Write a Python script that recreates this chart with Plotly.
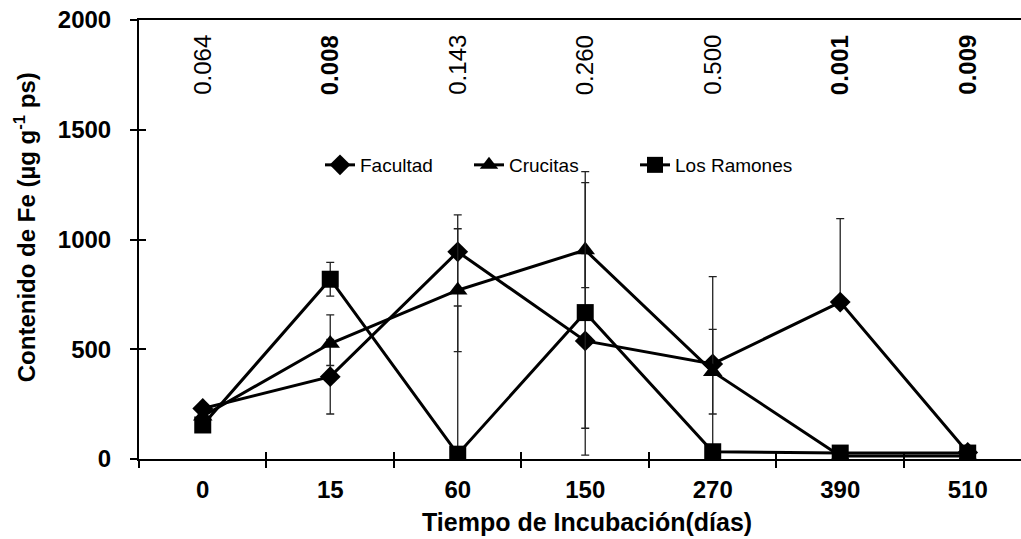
import plotly.graph_objects as go

days = ["0", "15", "60", "150", "270", "390", "510"]
facultad = [230, 375, 944, 538, 433, 715, 30]
crucitas = [195, 526, 769, 952, 398, 14, 14]
ramones = [155, 819, 22, 667, 33, 27, 27]

fac_err_plus = [0, 170, 168, 398, 398, 380, 0]
fac_err_minus = [0, 170, 168, 398, 398, 0, 0]
cru_err_plus = [0, 131, 280, 357, 193, 0, 0]
cru_err_minus = [0, 100, 280, 171, 193, 0, 0]
ram_err_plus = [0, 77, 675, 592, 0, 0, 0]
ram_err_minus = [0, 77, 0, 649, 0, 0, 0]

p_values = ["0.064", "0.008", "0.143", "0.260", "0.500", "0.001", "0.009"]
p_bold = [False, True, False, False, False, True, True]

y_ticks = [0, 500, 1000, 1500, 2000]

FONT = "Liberation Sans, Arial, sans-serif"

fig = go.Figure()

def add_series(name, yvals, eplus, eminus, symbol, size, legend):
    fig.add_trace(go.Scatter(
        x=days, y=yvals, name=name, mode="lines+markers",
        line=dict(color="black", width=3),
        marker=dict(symbol=symbol, size=size, color="black"),
        error_y=dict(type="data", symmetric=False, array=eplus, arrayminus=eminus,
                     color="#222222", thickness=1.3, width=4),
        legend=legend, showlegend=True,
    ))

add_series("Facultad", facultad, fac_err_plus, fac_err_minus, "diamond", 16, "legend")
add_series("Crucitas", crucitas, cru_err_plus, cru_err_minus, "triangle-up", 17, "legend2")
add_series("Los Ramones", ramones, ram_err_plus, ram_err_minus, "square", 17, "legend3")

# empty helper trace so the overlay axes (inner half of the crossing ticks) are drawn
fig.add_trace(go.Scatter(x=[], y=[], xaxis="x2", yaxis="y2", showlegend=False,
                         hoverinfo="skip", mode="markers"))

xr = [-0.5, 6.418]
yr = [0, 2000]

for i, (txt, b) in enumerate(zip(p_values, p_bold)):
    fig.add_annotation(
        x=i, xref="x", y=0.8975, yref="paper", text=f"<b>{txt}</b>" if b else txt,
        textangle=-90, showarrow=False, xanchor="center", yanchor="middle",
        font=dict(family=FONT, size=24, color="black"),
    )

fig.add_annotation(
    x=-0.129, xref="paper", y=(459 - 227) / 439, yref="paper",
    text="<b>Contenido de Fe (µg g<sup>-1</sup> ps)</b>", textangle=-90, showarrow=False,
    xanchor="center", yanchor="middle", font=dict(family=FONT, size=24, color="black"),
)
fig.add_annotation(
    x=(587 - 139) / 882, xref="paper", y=-(522 - 459) / 439, yref="paper",
    text="<b>Tiempo de Incubación(días)</b>", showarrow=False,
    xanchor="center", yanchor="middle", font=dict(family=FONT, size=25, color="black"),
)

leg_common = dict(orientation="h", yanchor="middle", xanchor="left",
                  bgcolor="rgba(0,0,0,0)", font=dict(family=FONT, size=19, color="black"),
                  itemwidth=30)
fig.update_layout(
    legend=dict(x=(320 - 139) / 882, y=(459 - 165) / 439, **leg_common),
    legend2=dict(x=(469 - 139) / 882, y=(459 - 165) / 439, **leg_common),
    legend3=dict(x=(635 - 139) / 882, y=(459 - 165) / 439, **leg_common),
)

tickfont = dict(family=FONT, size=24, color="black", weight="bold")

fig.update_layout(
    width=1021, height=539,
    margin=dict(l=139, r=0, t=20, b=80),
    paper_bgcolor="white", plot_bgcolor="white",
    font=dict(family=FONT, color="black"),
    xaxis=dict(
        type="category", categoryorder="array", categoryarray=days, range=xr,
        tickson="boundaries", ticks="outside", ticklen=7, tickwidth=2, tickcolor="black",
        showline=True, linecolor="black", linewidth=2, mirror=True,
        showgrid=False, zeroline=False,
        tickfont=tickfont,
        ticklabelstandoff=8,
    ),
    yaxis=dict(
        range=yr, tickvals=y_ticks, ticks="outside", ticklen=7, tickwidth=2, tickcolor="black",
        showline=True, linecolor="black", linewidth=2, showgrid=False, zeroline=False,
        tickfont=tickfont,
        ticklabelstandoff=14,
    ),
    xaxis2=dict(
        overlaying="x", anchor="y2", range=xr, type="linear",
        tickvals=[0.5, 1.5, 2.5, 3.5, 4.5, 5.5], ticks="inside", ticklen=7, tickwidth=2,
        tickcolor="black", showticklabels=False, showline=False, showgrid=False, zeroline=False,
    ),
    yaxis2=dict(
        overlaying="y", anchor="x2", range=yr, tickvals=y_ticks, ticks="inside", ticklen=7,
        tickwidth=2, tickcolor="black", showticklabels=False, showline=False,
        showgrid=False, zeroline=False,
    ),
)

fig.write_html("out.html")
